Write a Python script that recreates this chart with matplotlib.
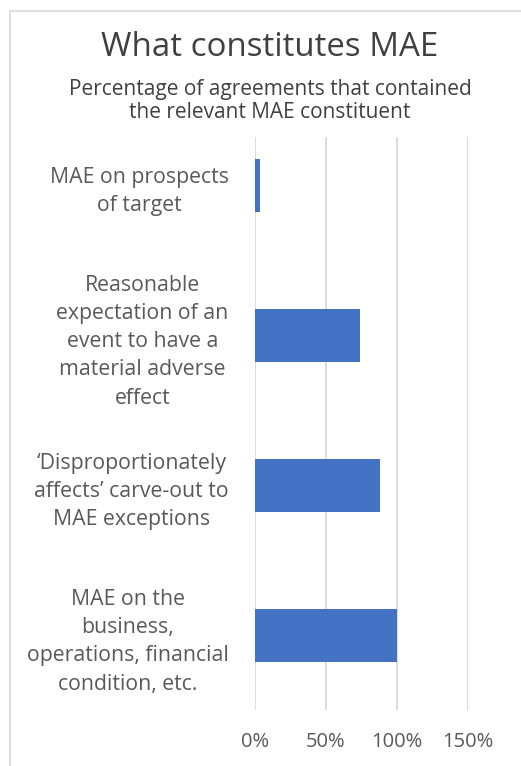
import matplotlib
matplotlib.use("Agg")
import matplotlib.pyplot as plt
from matplotlib.patches import Rectangle

categories = [
    "MAE on the\nbusiness,\noperations, financial\ncondition, etc.",
    "\u2018Disproportionately\naffects\u2019 carve-out to\nMAE exceptions",
    "Reasonable\nexpectation of an\nevent to have a\nmaterial adverse\neffect",
    "MAE on prospects\nof target",
]
values = [100, 88, 74, 3.5]
xticks = [0, 50, 100, 150]
xticklabels = ["0%", "50%", "100%", "150%"]
title = "What constitutes MAE"
subtitle = "Percentage of agreements that contained\nthe relevant MAE constituent"

W, H = 521, 766
fig = plt.figure(figsize=(W / 100, H / 100), dpi=100)
fig.patch.set_facecolor("white")

# chart border
fig.add_artist(Rectangle((10 / W, 0 - 0.01), (W + 20) / W, (H - 11) / H + 0.01,
                         transform=fig.transFigure, fill=False,
                         edgecolor="#d9d9d9", linewidth=1.2))

left, right = 255 / W, 468 / W
top, bottom = 1 - 137 / H, 1 - 710 / H
ax = fig.add_axes([left, bottom, right - left, top - bottom])

ypos = list(range(len(categories)))
ax.barh(ypos, values, height=0.35, color="#4472C4", zorder=3)
ax.set_xlim(0, 150)
ax.set_ylim(-0.495, 3.323)
ax.set_xticks(xticks)
ax.set_xticklabels(xticklabels)
ax.set_yticks(ypos)
ax.set_yticklabels(categories, ha="right", multialignment="center",
                   linespacing=1.45)
ax.grid(axis="x", color="#d9d9d9", linewidth=1.3, zorder=0)
for s in ax.spines.values():
    s.set_visible(False)
ax.tick_params(axis="both", length=0, colors="#595959")
ax.tick_params(axis="y", pad=19, labelsize=15.3)
ax.tick_params(axis="x", pad=16, labelsize=14.5)
for lbl in ax.get_xticklabels() + ax.get_yticklabels():
    lbl.set_fontfamily("Open Sans")

fig.text(270 / W, 1 - 48 / H, title, ha="center", va="center",
         fontsize=23.8, color="#404040", family="Open Sans")
fig.text(270 / W, 1 - 101 / H, subtitle, ha="center", va="center",
         fontsize=15, color="#404040", family="Open Sans", linespacing=1.15)

fig.savefig("out.png", dpi=100)
